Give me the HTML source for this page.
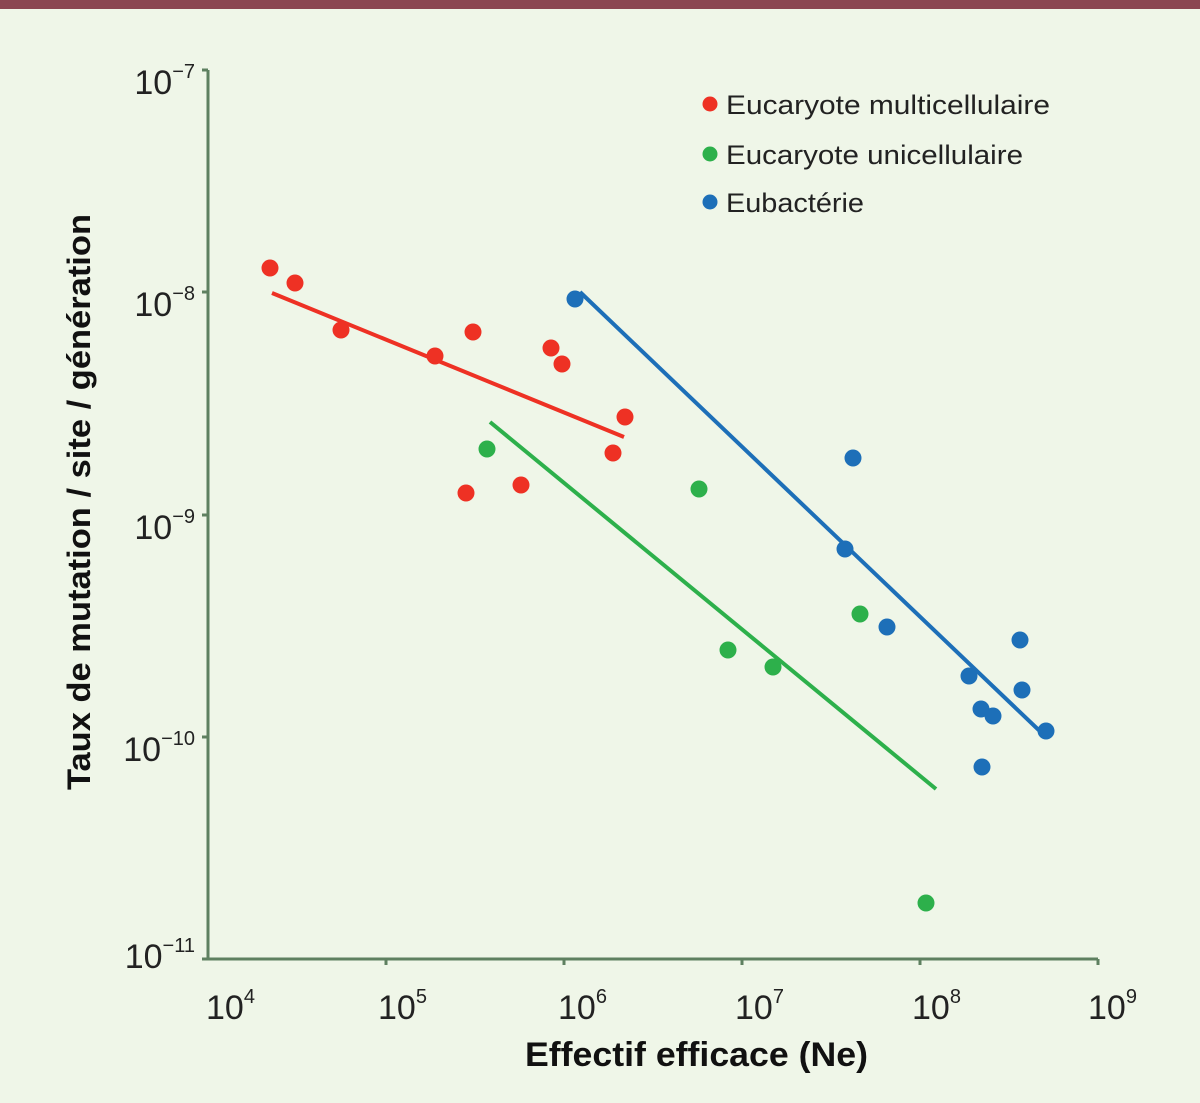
<!DOCTYPE html>
<html><head><meta charset="utf-8"><style>
body{margin:0;background:#eff6e8;}
svg{display:block;}
</style></head><body>
<svg width="1200" height="1103" viewBox="0 0 1200 1103" xmlns="http://www.w3.org/2000/svg">
<rect width="1200" height="1103" fill="#eff6e8"/>
<rect width="1200" height="9" fill="#8b4651"/>
<g stroke="#5e8060" stroke-width="3" fill="none">
<line x1="208" y1="70" x2="208" y2="960"/>
<line x1="206" y1="959" x2="1098" y2="959"/>
<line x1="202" y1="70" x2="208" y2="70"/>
<line x1="202" y1="292" x2="208" y2="292"/>
<line x1="202" y1="515" x2="208" y2="515"/>
<line x1="202" y1="737" x2="208" y2="737"/>
<line x1="202" y1="959" x2="208" y2="959"/>
<line x1="386" y1="959" x2="386" y2="965"/>
<line x1="564" y1="959" x2="564" y2="965"/>
<line x1="742" y1="959" x2="742" y2="965"/>
<line x1="920" y1="959" x2="920" y2="965"/>
<line x1="1098" y1="959" x2="1098" y2="965"/>
</g>
<g font-family="Liberation Sans, sans-serif" font-size="34" fill="#222">
<text x="195" y="94" text-anchor="end">10<tspan font-size="20" dy="-16">−7</tspan></text>
<text x="195" y="316" text-anchor="end">10<tspan font-size="20" dy="-16">−8</tspan></text>
<text x="195" y="539" text-anchor="end">10<tspan font-size="20" dy="-16">−9</tspan></text>
<text x="195" y="761" text-anchor="end">10<tspan font-size="20" dy="-16">−10</tspan></text>
<text x="195" y="968" text-anchor="end">10<tspan font-size="20" dy="-16">−11</tspan></text>
<text x="206" y="1019">10<tspan font-size="20" dy="-16">4</tspan></text>
<text x="378" y="1019">10<tspan font-size="20" dy="-16">5</tspan></text>
<text x="558" y="1019">10<tspan font-size="20" dy="-16">6</tspan></text>
<text x="735" y="1019">10<tspan font-size="20" dy="-16">7</tspan></text>
<text x="912" y="1019">10<tspan font-size="20" dy="-16">8</tspan></text>
<text x="1088" y="1019">10<tspan font-size="20" dy="-16">9</tspan></text>
</g>
<text x="525" y="1066" textLength="343" lengthAdjust="spacingAndGlyphs" font-family="Liberation Sans, sans-serif" font-weight="bold" font-size="34" fill="#111">Effectif efficace (Ne)</text>
<text transform="translate(90,790) rotate(-90)" textLength="576" lengthAdjust="spacingAndGlyphs" font-family="Liberation Sans, sans-serif" font-weight="bold" font-size="32" fill="#111">Taux de mutation / site / génération</text>
<g stroke-width="4">
<line x1="272" y1="293" x2="624" y2="437" stroke="#ee3124"/>
<line x1="490" y1="422" x2="936" y2="789" stroke="#2db04b"/>
<line x1="580" y1="292" x2="1046" y2="737" stroke="#1d6fb8"/>
</g>
<g fill="#ee3124">
<circle cx="270" cy="268" r="8.5"/><circle cx="295" cy="283" r="8.5"/><circle cx="341" cy="330" r="8.5"/><circle cx="435" cy="356" r="8.5"/><circle cx="473" cy="332" r="8.5"/><circle cx="551" cy="348" r="8.5"/><circle cx="562" cy="364" r="8.5"/><circle cx="625" cy="417" r="8.5"/><circle cx="613" cy="453" r="8.5"/><circle cx="466" cy="493" r="8.5"/><circle cx="521" cy="485" r="8.5"/>
<circle cx="710" cy="104" r="7.5"/>
</g>
<g fill="#2db04b">
<circle cx="487" cy="449" r="8.5"/><circle cx="699" cy="489" r="8.5"/><circle cx="728" cy="650" r="8.5"/><circle cx="773" cy="667" r="8.5"/><circle cx="860" cy="614" r="8.5"/><circle cx="926" cy="903" r="8.5"/>
<circle cx="710" cy="154" r="7.5"/>
</g>
<g fill="#1d6fb8">
<circle cx="575" cy="299" r="8.5"/><circle cx="853" cy="458" r="8.5"/><circle cx="845" cy="549" r="8.5"/><circle cx="887" cy="627" r="8.5"/><circle cx="969" cy="676" r="8.5"/><circle cx="981" cy="709" r="8.5"/><circle cx="993" cy="716" r="8.5"/><circle cx="982" cy="767" r="8.5"/><circle cx="1020" cy="640" r="8.5"/><circle cx="1022" cy="690" r="8.5"/><circle cx="1046" cy="731" r="8.5"/>
<circle cx="710" cy="202" r="7.5"/>
</g>
<g font-family="Liberation Sans, sans-serif" font-size="27" fill="#222">
<text x="726" y="114" textLength="324" lengthAdjust="spacingAndGlyphs">Eucaryote multicellulaire</text>
<text x="726" y="164" textLength="297" lengthAdjust="spacingAndGlyphs">Eucaryote unicellulaire</text>
<text x="726" y="212" textLength="138" lengthAdjust="spacingAndGlyphs">Eubactérie</text>
</g>
</svg>
</body></html>
